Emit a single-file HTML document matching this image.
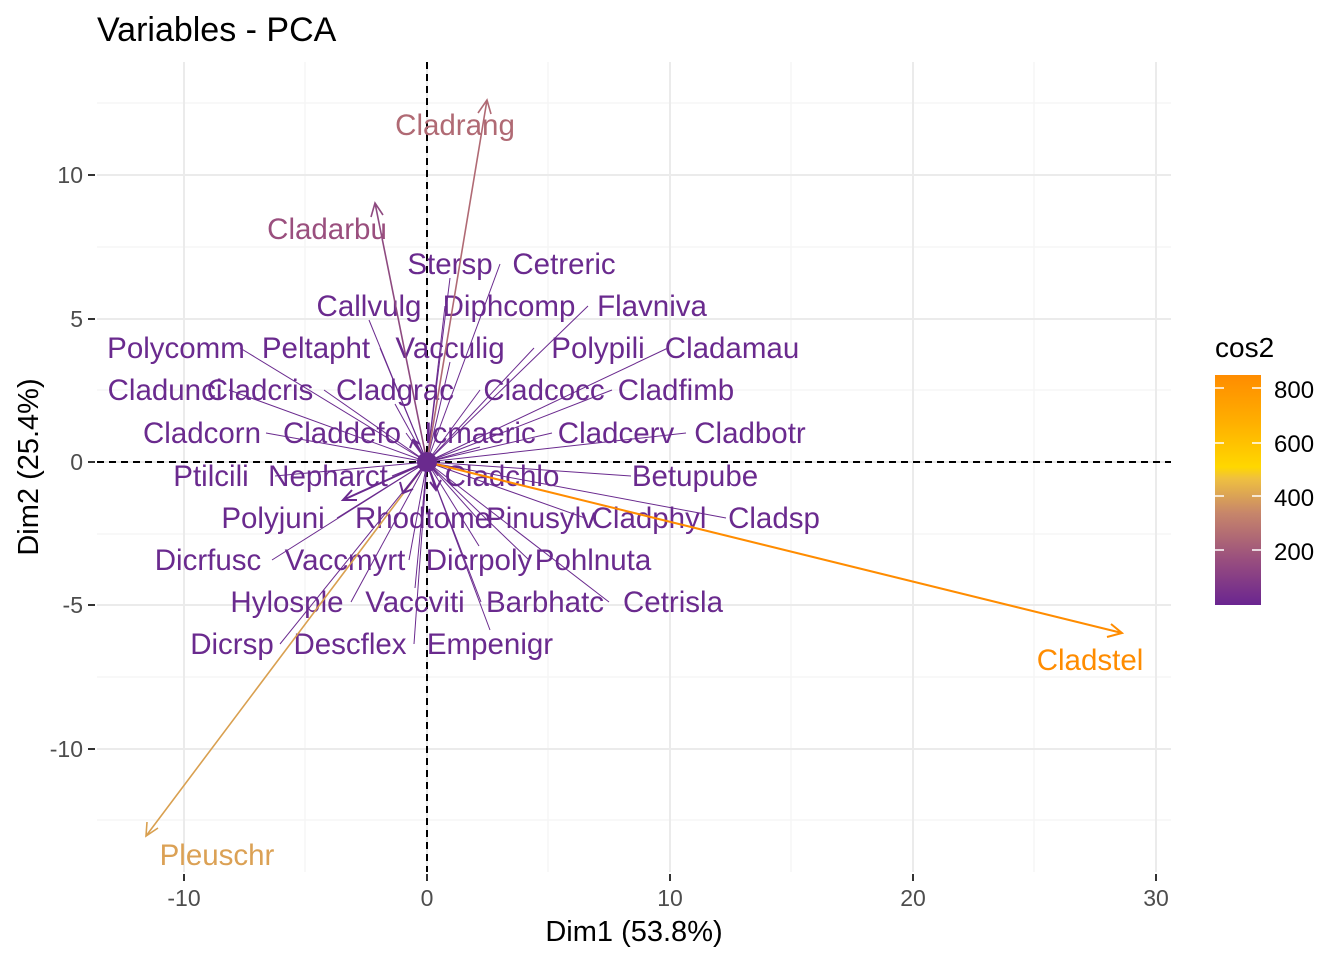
<!DOCTYPE html>
<html><head><meta charset="utf-8"><style>
html,body{margin:0;padding:0;background:#fff}
svg{display:block;font-family:"Liberation Sans",Arial,sans-serif}
</style></head><body>
<svg id="s" width="1344" height="960" viewBox="0 0 1344 960" xmlns="http://www.w3.org/2000/svg">
<rect width="1344" height="960" fill="#fff"/>
<g stroke="#f4f4f4" stroke-width="1.2">
<line x1="305" y1="62" x2="305" y2="872"/><line x1="548" y1="62" x2="548" y2="872"/><line x1="791" y1="62" x2="791" y2="872"/><line x1="1034" y1="62" x2="1034" y2="872"/>
<line x1="97" y1="103" x2="1171" y2="103"/><line x1="97" y1="247" x2="1171" y2="247"/><line x1="97" y1="390" x2="1171" y2="390"/><line x1="97" y1="534" x2="1171" y2="534"/><line x1="97" y1="677" x2="1171" y2="677"/><line x1="97" y1="820" x2="1171" y2="820"/>
</g>
<g stroke="#ebebeb" stroke-width="2">
<line x1="184" y1="62" x2="184" y2="872"/><line x1="427" y1="62" x2="427" y2="872"/><line x1="670" y1="62" x2="670" y2="872"/><line x1="913" y1="62" x2="913" y2="872"/><line x1="1156" y1="62" x2="1156" y2="872"/>
<line x1="97" y1="175" x2="1171" y2="175"/><line x1="97" y1="319" x2="1171" y2="319"/><line x1="97" y1="462" x2="1171" y2="462"/><line x1="97" y1="605" x2="1171" y2="605"/><line x1="97" y1="749" x2="1171" y2="749"/>
</g>
<g stroke="#000" stroke-width="2" stroke-dasharray="7,5">
<line x1="427" y1="62" x2="427" y2="872"/><line x1="97" y1="462" x2="1171" y2="462"/>
</g>
<g stroke="#333" stroke-width="2">
<line x1="184" y1="874" x2="184" y2="881"/><line x1="427" y1="874" x2="427" y2="881"/><line x1="670" y1="874" x2="670" y2="881"/><line x1="913" y1="874" x2="913" y2="881"/><line x1="1156" y1="874" x2="1156" y2="881"/>
<line x1="88" y1="175" x2="95" y2="175"/><line x1="88" y1="319" x2="95" y2="319"/><line x1="88" y1="462" x2="95" y2="462"/><line x1="88" y1="605" x2="95" y2="605"/><line x1="88" y1="749" x2="95" y2="749"/>
</g>
<g fill="#4d4d4d" font-size="23" text-anchor="middle">
<text x="184" y="906">-10</text><text x="427" y="906">0</text><text x="670" y="906">10</text><text x="913" y="906">20</text><text x="1156" y="906">30</text>
</g>
<g fill="#4d4d4d" font-size="23" text-anchor="end">
<text x="83" y="183">10</text><text x="83" y="327">5</text><text x="83" y="470">0</text><text x="83" y="613">-5</text><text x="83" y="757">-10</text>
</g>
<text x="97" y="41" font-size="34" fill="#000">Variables - PCA</text>
<text x="634" y="941" font-size="29" fill="#000" text-anchor="middle">Dim1 (53.8%)</text>
<text transform="translate(38,467) rotate(-90)" font-size="29" fill="#000" text-anchor="middle">Dim2 (25.4%)</text>
<g id="lines" stroke="#6a2a8e" stroke-width="1" fill="none"></g>
<g id="labs" fill="#6a2a8e" font-size="29.5" text-anchor="middle"></g>
<g fill="none" stroke-width="1.6">
<path d="M427 462 L487 100 M478 113 L487 100 L491 114" stroke="#b06a74"/>
<path d="M427 462 L375 203 M371 217 L375 203 L383 215" stroke="#8e4a80"/>
<path d="M427 462 L1122 633 M1111 624 L1122 633 L1107 637" stroke="#ff8c00" stroke-width="2"/>
<path d="M427 462 L146 836 M147 822 L146 836 L158 828" stroke="#d9a050"/>
<path d="M427 462 L343 500 M352 490 L343 500 L357 500" stroke="#6a2a8e" stroke-width="2"/>
<path d="M427 462 L403 493 M400 482 L403 493 L413 489" stroke="#6a2a8e" stroke-width="2"/>
<path d="M427 462 L436 490 M430 482 L436 490 L441 480" stroke="#6a2a8e" stroke-width="2"/>
<path d="M427 462 L413 440 M410 448 L413 440 L420 444" stroke="#6a2a8e" stroke-width="2"/>
</g>
<circle cx="427" cy="462" r="10" fill="#6a2a8e"/>
<g font-size="29.5" text-anchor="middle">
<text x="455" y="135" fill="#b06a74">Cladrang</text>
<text x="327" y="239" fill="#9a4f7e">Cladarbu</text>
<text x="1090" y="670" fill="#ff8c00">Cladstel</text>
<text x="217" y="865" fill="#dba155">Pleuschr</text>
</g>
<defs><linearGradient id="g" x1="0" y1="1" x2="0" y2="0">
<stop offset="0" stop-color="#6a2590"/><stop offset="0.2" stop-color="#9a4f7e"/><stop offset="0.4" stop-color="#c7866a"/><stop offset="0.55" stop-color="#efc040"/><stop offset="0.6" stop-color="#ffd700"/><stop offset="0.8" stop-color="#ffae00"/><stop offset="1" stop-color="#ff8c00"/>
</linearGradient></defs>
<rect x="1215" y="375" width="46" height="230" fill="url(#g)"/>
<g stroke="#fff" stroke-width="1.5">
<line x1="1215" y1="388" x2="1224" y2="388"/><line x1="1252" y1="388" x2="1261" y2="388"/>
<line x1="1215" y1="443" x2="1224" y2="443"/><line x1="1252" y1="443" x2="1261" y2="443"/>
<line x1="1215" y1="496" x2="1224" y2="496"/><line x1="1252" y1="496" x2="1261" y2="496"/>
<line x1="1215" y1="550" x2="1224" y2="550"/><line x1="1252" y1="550" x2="1261" y2="550"/>
</g>
<text x="1215" y="357" font-size="28" fill="#000">cos2</text>
<g font-size="24" fill="#000">
<text x="1274" y="398">800</text><text x="1274" y="452">600</text><text x="1274" y="506">400</text><text x="1274" y="560">200</text>
</g>
</svg>
<script>
var L=[["Stersp",450,264],["Cetreric",564,264],["Callvulg",369,306],["Diphcomp",509,306],["Flavniva",652,306],
["Polycomm",176,348],["Peltapht",316,348],["Vacculig",450,348],["Polypili",598,348],["Cladamau",732,348],
["Cladunci",165,390],["Cladcris",260,390],["Cladgrac",395,390],["Cladcocc",544,390],["Cladfimb",676,390],
["Cladcorn",202,433],["Claddefo",342,433],["Icmaeric",480,433],["Cladcerv",616,433],["Cladbotr",750,433],
["Ptilcili",211,476],["Nepharct",328,476],["Cladchlo",502,476],["Betupube",695,476],
["Polyjuni",273,518],["Rhodtome",423,518],["Pinusylv",541,518],["Cladphyl",649,518],["Cladsp",774,518],
["Dicrfusc",208,560],["Vaccmyrt",345,560],["Dicrpoly",479,560],["Pohlnuta",593,560],
["Hylosple",287,602],["Vaccviti",415,602],["Barbhatc",545,602],["Cetrisla",673,602],
["Dicrsp",232,644],["Descflex",350,644],["Empenigr",490,644]];
var ns="http://www.w3.org/2000/svg",lg=document.getElementById("lines"),tg=document.getElementById("labs");
L.forEach(function(d){var t=document.createElementNS(ns,"text");t.setAttribute("x",d[1]);t.setAttribute("y",d[2]+10);t.textContent=d[0];tg.appendChild(t);
var w=d[0].length*8,x=d[1],y=d[2];
if(x>427+w)x=d[1]-w;else if(x<427-w)x=d[1]+w;else y=d[2]+(d[2]<462?14:-14);
var l=document.createElementNS(ns,"line");l.setAttribute("x1",427);l.setAttribute("y1",462);l.setAttribute("x2",x);l.setAttribute("y2",y);lg.appendChild(l);});
</script>
</body></html>
